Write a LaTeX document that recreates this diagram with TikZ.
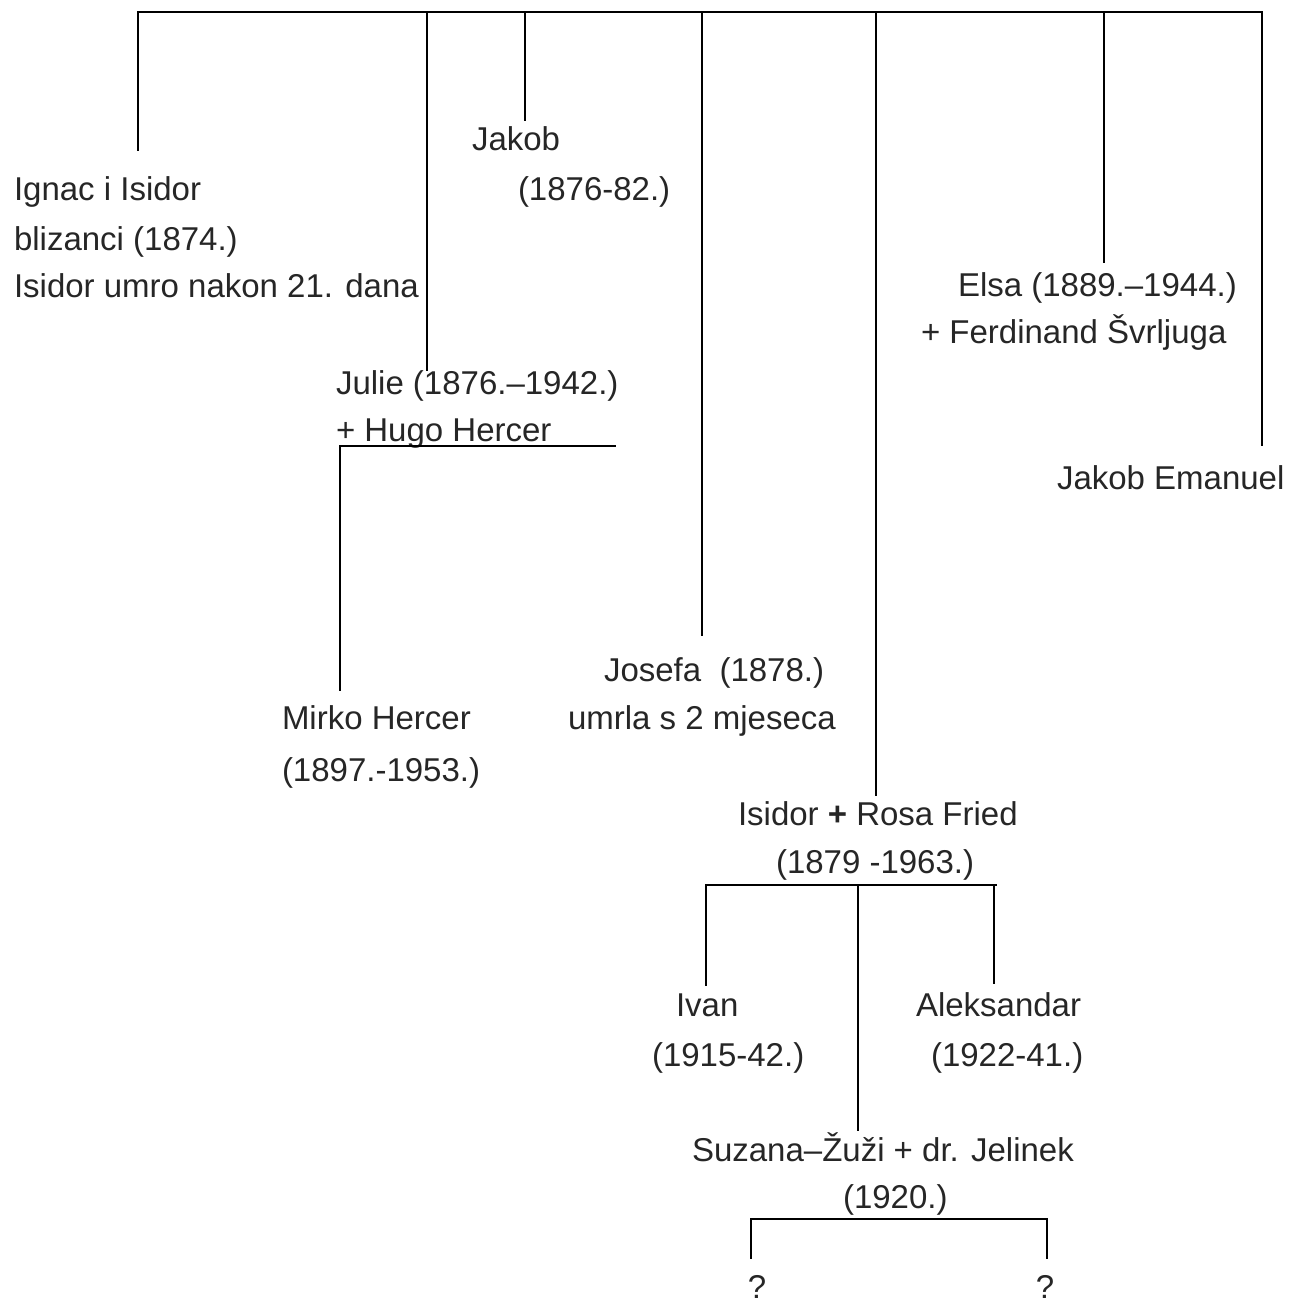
\documentclass[tikz,border=0pt]{standalone}
\usepackage{fontspec}
\setmainfont{Liberation Sans}
\begin{document}
\begin{tikzpicture}[x=1pt,y=-1pt,
  line/.style={line width=2.2pt, line cap=rect},
  lbl/.style={anchor=base west, inner sep=0pt, outer sep=0pt, font=\fontsize{33}{40}\selectfont, text=black!85},
  lblc/.style={anchor=base, inner sep=0pt, outer sep=0pt, font=\fontsize{33}{40}\selectfont, text=black!85}]
\useasboundingbox (0,0) rectangle (1288,1305);
% text nodes (baseline = visual centre + 11)
\node[lbl] (ig1) at (14,201) {Ignac i Isidor};
\node[lbl] (ig2) at (14,251) {blizanci (1874.)};
\node[lbl] (ig3) at (14,298) {Isidor umro nakon 21. dana};
\node[lbl] (jak1) at (472,151) {Jakob};
\node[lbl] (jak2) at (518,201) {(1876-82.)};
\node[lbl] (jul1) at (336,394) {Julie (1876.–1942.)};
\node[lbl] (jul2) at (336,441) {+ Hugo Hercer};
\node[lbl] (els1) at (958,297) {Elsa (1889.–1944.)};
\node[lbl] (els2) at (921,343) {+ Ferdinand Švrljuga};
\node[lbl] (jem) at (1057,489) {Jakob Emanuel};
\node[lbl] (jos1) at (604,681) {Josefa\ \ (1878.)};
\node[lbl] (jos2) at (568,729) {umrla s 2 mjeseca};
\node[lbl] (mir1) at (282,729) {Mirko Hercer};
\node[lbl] (mir2) at (282,781) {(1897.-1953.)};
\node[lbl] (isi1) at (738,825) {Isidor \textbf{+} Rosa Fried};
\node[lbl] (isi2) at (776,873) {(1879 -1963.)};
\node[lbl] (iva1) at (676,1016) {Ivan};
\node[lbl] (iva2) at (652,1066) {(1915-42.)};
\node[lbl] (ale1) at (916,1016) {Aleksandar};
\node[lbl] (ale2) at (931,1066) {(1922-41.)};
\node[lbl] (suz1) at (692,1161) {Suzana–Žuži + dr. Jelinek};
\node[lbl] (suz2) at (843,1208) {(1920.)};
\node[lblc] (q1) at (757,1298) {?};
\node[lblc] (q2) at (1045,1298) {?};
% junction coordinates
\coordinate (tl) at (138,12);
\coordinate (tr) at (1262,12);
\coordinate (t1) at (427,12);
\coordinate (t2) at (525,12);
\coordinate (t3) at (702,12);
\coordinate (t4) at (876,12);
\coordinate (t5) at (1104,12);
\coordinate (e0) at (138,150);
\coordinate (e1) at (427,370);
\coordinate (e2) at (525,120);
\coordinate (e3) at (702,635);
\coordinate (e4) at (876,795);
\coordinate (e5) at (1104,262);
\coordinate (e6) at (1262,445);
\coordinate (jbl) at (340,446);
\coordinate (jbr) at (615,446);
\coordinate (jbe) at (340,690);
\coordinate (ibl) at (706,885);
\coordinate (ibm) at (858,885);
\coordinate (ibr) at (996,885);
\coordinate (ibr2) at (994,885);
\coordinate (ie1) at (706,985);
\coordinate (ie2) at (858,1130);
\coordinate (ie3) at (994,983);
\coordinate (sbl) at (751,1219);
\coordinate (sbr) at (1047,1219);
\coordinate (se1) at (751,1258);
\coordinate (se2) at (1047,1258);
% connectors
\draw[line] (e0) -- (tl) -- (tr) -- (e6);
\draw[line] (t1) -- (e1);
\draw[line] (t2) -- (e2);
\draw[line] (t3) -- (e3);
\draw[line] (t4) -- (e4);
\draw[line] (t5) -- (e5);
\draw[line] (jbe) -- (jbl) -- (jbr);
\draw[line] (ie1) -- (ibl) -- (ibr);
\draw[line] (ibm) -- (ie2);
\draw[line] (ibr2) -- (ie3);
\draw[line] (se1) -- (sbl) -- (sbr) -- (se2);
\end{tikzpicture}
\end{document}
